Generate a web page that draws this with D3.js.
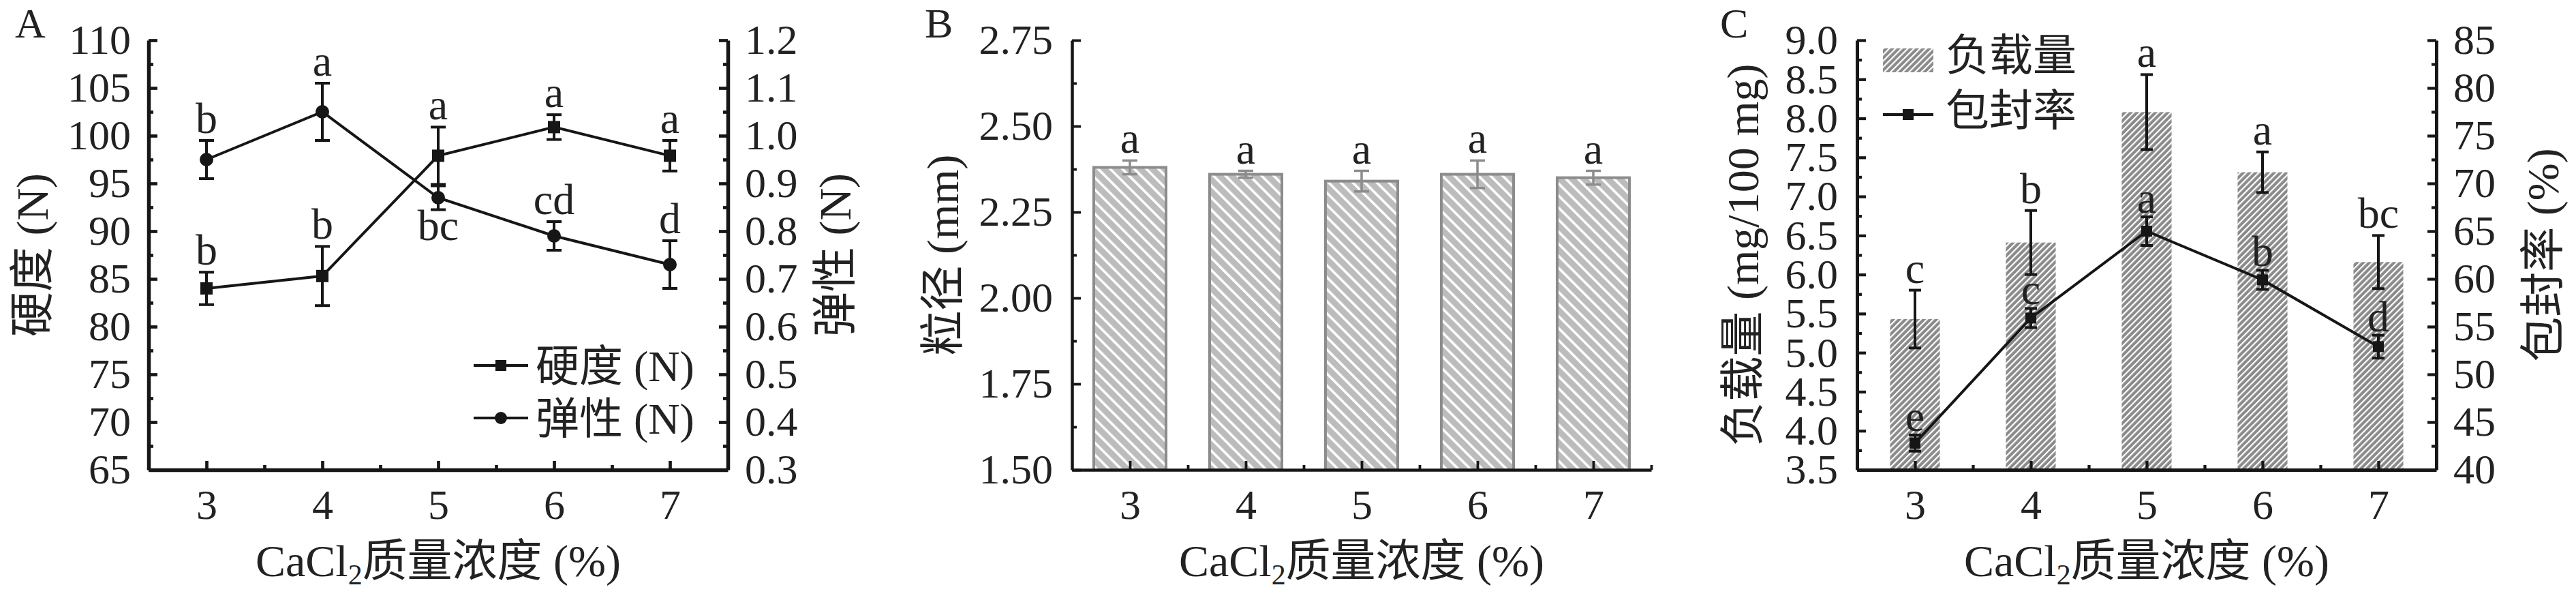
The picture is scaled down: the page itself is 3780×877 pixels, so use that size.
<!DOCTYPE html>
<html>
<head>
<meta charset="utf-8">
<script src="https://cdn.jsdelivr.net/npm/d3@7"></script>
<style>
  body { margin: 0; background: #fff; }
  svg { display: block; }
</style>
</head>
<body>
<script>
// CaCl2 concentration (%)
const conc = [3, 4, 5, 6, 7];

// A: hardness (N) and elasticity (N)
const hardness = [84.0, 85.3, 97.9, 100.9, 97.9];
const hardnessErr = [1.7, 3.1, 3.0, 1.3, 1.6];
const hardnessSig = ['b', 'b', 'a', 'a', 'a'];
const elasticity = [0.95, 1.05, 0.87, 0.79, 0.73];
const elasticityErr = [0.04, 0.06, 0.025, 0.03, 0.05];
const elasticitySig = ['b', 'a', 'bc', 'cd', 'd'];

// B: particle size (mm)
const particleSize = [2.38, 2.36, 2.34, 2.36, 2.35];
const particleSizeErr = [0.02, 0.01, 0.03, 0.04, 0.02];
const particleSizeSig = ['a', 'a', 'a', 'a', 'a'];

// C: loading (mg/100 mg) and encapsulation rate (%)
const loading = [5.43, 6.41, 8.08, 7.31, 6.16];
const loadingErr = [0.37, 0.41, 0.48, 0.26, 0.34];
const loadingSig = ['c', 'b', 'a', 'a', 'bc'];
const encap = [42.8, 55.9, 65.0, 59.9, 52.9];
const encapErr = [0.85, 1.0, 1.5, 1.0, 1.2];
const encapSig = ['e', 'c', 'a', 'b', 'd'];

const W = 3780, H = 877;
const serif = "'Liberation Serif', 'Times New Roman', 'Noto Sans CJK SC', serif";
const ink = '#161616';
const plotTop = 59, plotBottom = 689;

const svg = d3.select('body').append('svg')
    .attr('width', W)
    .attr('height', H);

svg.append('rect').attr('width', W).attr('height', H).attr('fill', '#fff');

// hatch patterns
const defs = svg.append('defs');
const pB = defs.append('pattern')
    .attr('id', 'hatchB')
    .attr('patternUnits', 'userSpaceOnUse')
    .attr('width', 12.5).attr('height', 40)
    .attr('patternTransform', 'rotate(-45)');
pB.append('rect').attr('width', 12.5).attr('height', 40).attr('fill', '#bcbcbc');
pB.append('rect').attr('width', 3.6).attr('height', 40).attr('fill', '#fff');

const pC = defs.append('pattern')
    .attr('id', 'hatchC')
    .attr('patternUnits', 'userSpaceOnUse')
    .attr('width', 6.4).attr('height', 40)
    .attr('patternTransform', 'rotate(45)');
pC.append('rect').attr('width', 6.4).attr('height', 40).attr('fill', '#8a8a8a');
pC.append('rect').attr('width', 2.2).attr('height', 40).attr('fill', '#fff');

function range(a, b, step) {
    const out = [];
    for (let v = a; v <= b + 1e-9; v += step) out.push(+v.toFixed(4));
    return out;
}

function styleAxis(g, sw) {
    g.attr('font-size', null).attr('font-family', null);
    g.select('.domain').attr('stroke', ink).attr('stroke-width', sw);
    g.selectAll('.tick line').attr('stroke', ink).attr('stroke-width', sw * 0.85);
    g.selectAll('.tick text')
        .attr('font-size', 62)
        .attr('font-family', serif)
        .attr('fill', '#222');
}

// axis with major labelled ticks and minor ticks, all pointing inward
function drawAxis(kind, scale, pos, majors, minors, fmt, sw, pad) {
    const mk = {left: d3.axisLeft, right: d3.axisRight, bottom: d3.axisBottom}[kind];
    const tr = kind === 'bottom' ? `translate(0,${pos})` : `translate(${pos},0)`;
    const gMinor = svg.append('g').attr('transform', tr)
        .call(mk(scale).tickValues(minors).tickSize(-7).tickFormat(''));
    gMinor.select('.domain').remove();
    gMinor.selectAll('text').remove();
    gMinor.selectAll('.tick line').attr('stroke', ink).attr('stroke-width', sw * 0.85);
    const g = svg.append('g').attr('transform', tr)
        .call(mk(scale).tickValues(majors).tickSizeInner(-13).tickSizeOuter(0)
            .tickPadding(pad).tickFormat(fmt));
    styleAxis(g, sw);
    return g;
}

function xTitle(cx) {
    const t = svg.append('text')
        .attr('x', cx).attr('y', 845)
        .attr('text-anchor', 'middle')
        .attr('font-family', serif)
        .attr('font-size', 66)
        .attr('fill', '#222');
    t.append('tspan').text('CaCl');
    t.append('tspan').attr('font-size', 42).attr('dy', 12).text('2');
    t.append('tspan').attr('dy', -12).text('质量浓度 (%)');
}

function yTitle(x, text) {
    svg.append('text')
        .attr('transform', `translate(${x},${(plotTop + plotBottom) / 2}) rotate(-90)`)
        .attr('text-anchor', 'middle')
        .attr('dy', '0.36em')
        .attr('font-family', serif)
        .attr('font-size', 66)
        .attr('fill', '#222')
        .text(text);
}

function panelLabel(x, y, text) {
    svg.append('text')
        .attr('x', x).attr('y', y)
        .attr('font-family', serif)
        .attr('font-size', 62)
        .attr('fill', '#222')
        .text(text);
}

function sigLabel(x, y, text) {
    svg.append('text')
        .attr('x', x).attr('y', y)
        .attr('text-anchor', 'middle')
        .attr('font-family', serif)
        .attr('font-size', 64)
        .attr('fill', '#222')
        .text(text);
}

function errorBars(x, y, vals, errs, color, sw, cap) {
    const g = svg.append('g').attr('stroke', color).attr('stroke-width', sw);
    conc.forEach((c, i) => {
        const cx = x(c), y1 = y(vals[i] + errs[i]), y2 = y(vals[i] - errs[i]);
        g.append('line').attr('x1', cx).attr('x2', cx).attr('y1', y1).attr('y2', y2);
        g.append('line').attr('x1', cx - cap / 2).attr('x2', cx + cap / 2).attr('y1', y1).attr('y2', y1);
        g.append('line').attr('x1', cx - cap / 2).attr('x2', cx + cap / 2).attr('y1', y2).attr('y2', y2);
    });
}

// ---------------- Panel A ----------------
{
    const x = d3.scaleLinear().domain([2.5, 7.5]).range([218, 1068]);
    const yL = d3.scaleLinear().domain([65, 110]).range([plotBottom, plotTop]);
    const yR = d3.scaleLinear().domain([0.3, 1.2]).range([plotBottom, plotTop]);

    drawAxis('left', yL, 218, range(65, 110, 5), range(67.5, 107.5, 5), d3.format('d'), 5.5, 26);
    drawAxis('right', yR, 1068, range(0.3, 1.2, 0.1), range(0.35, 1.15, 0.1), d3.format('.1f'), 5.5, 25);
    drawAxis('bottom', x, plotBottom, conc, range(3.5, 6.5, 1), d3.format('d'), 5.5, 28);

    const line = (y, vals) => d3.line().x((d, i) => x(conc[i])).y((d, i) => y(vals[i]))(vals);
    svg.append('path').attr('d', line(yL, hardness)).attr('fill', 'none').attr('stroke', ink).attr('stroke-width', 4);
    svg.append('path').attr('d', line(yR, elasticity)).attr('fill', 'none').attr('stroke', ink).attr('stroke-width', 4);

    errorBars(x, yL, hardness, hardnessErr, ink, 4, 22);
    errorBars(x, yR, elasticity, elasticityErr, ink, 4, 22);

    svg.selectAll('rect.hard').data(hardness).enter().append('rect')
        .attr('x', (d, i) => x(conc[i]) - 9).attr('y', d => yL(d) - 9)
        .attr('width', 18).attr('height', 18).attr('fill', ink);
    svg.selectAll('circle.elas').data(elasticity).enter().append('circle')
        .attr('cx', (d, i) => x(conc[i])).attr('cy', d => yR(d))
        .attr('r', 10).attr('fill', ink);

    conc.forEach((c, i) => {
        sigLabel(x(c), yL(hardness[i] + hardnessErr[i]) - 11, hardnessSig[i]);
        if (elasticitySig[i] === 'bc') {
            // drawn beneath its bar where the two lines cross
            sigLabel(x(c), yR(elasticity[i] - elasticityErr[i]) + 44, elasticitySig[i]);
        } else {
            sigLabel(x(c), yR(elasticity[i] + elasticityErr[i]) - 11, elasticitySig[i]);
        }
    });

    // legend
    const legend = [['硬度 (N)', 'square', 536], ['弹性 (N)', 'circle', 613]];
    legend.forEach(([label, shape, ly]) => {
        svg.append('line').attr('x1', 695).attr('x2', 775).attr('y1', ly).attr('y2', ly)
            .attr('stroke', ink).attr('stroke-width', 4);
        if (shape === 'square') {
            svg.append('rect').attr('x', 735 - 8).attr('y', ly - 8).attr('width', 16).attr('height', 16).attr('fill', ink);
        } else {
            svg.append('circle').attr('cx', 735).attr('cy', ly).attr('r', 9).attr('fill', ink);
        }
        svg.append('text').attr('x', 786).attr('y', ly).attr('dy', '0.36em')
            .attr('font-family', serif).attr('font-size', 64).attr('fill', '#222').text(label);
    });

    yTitle(46, '硬度 (N)');
    yTitle(1224, '弹性 (N)');
    xTitle((218 + 1068) / 2);
    panelLabel(22, 55, 'A');
}

// ---------------- Panel B ----------------
{
    const x = d3.scaleLinear().domain([2.5, 7.5]).range([1573, 2423]);
    const y = d3.scaleLinear().domain([1.5, 2.75]).range([plotBottom, plotTop]);
    const bw = x(2.5 + 0.624) - x(2.5);

    svg.selectAll('rect.size').data(particleSize).enter().append('rect')
        .attr('x', (d, i) => x(conc[i]) - bw / 2)
        .attr('y', d => y(d))
        .attr('width', bw)
        .attr('height', d => y(1.5) - y(d))
        .attr('fill', 'url(#hatchB)')
        .attr('stroke', '#8c8c8c')
        .attr('stroke-width', 4);

    errorBars(x, y, particleSize, particleSizeErr, '#8c8c8c', 3.5, 22);

    drawAxis('left', y, 1573, range(1.5, 2.75, 0.25), range(1.625, 2.625, 0.25), d3.format('.2f'), 4.5, 28);
    drawAxis('bottom', x, plotBottom, conc, range(3.5, 7.5, 1), d3.format('d'), 4.5, 28);

    conc.forEach((c, i) => sigLabel(x(c), y(particleSize[i] + particleSizeErr[i]) - 11, particleSizeSig[i]));

    yTitle(1382, '粒径 (mm)');
    xTitle((1573 + 2423) / 2);
    panelLabel(1357, 55, 'B');
}

// ---------------- Panel C ----------------
{
    const x = d3.scaleLinear().domain([2.5, 7.5]).range([2725, 3575]);
    const yL = d3.scaleLinear().domain([3.5, 9.0]).range([plotBottom, plotTop]);
    const yR = d3.scaleLinear().domain([40, 85]).range([plotBottom, plotTop]);
    const bw = x(2.5 + 0.43) - x(2.5);

    svg.selectAll('rect.load').data(loading).enter().append('rect')
        .attr('x', (d, i) => x(conc[i]) - bw / 2)
        .attr('y', d => yL(d))
        .attr('width', bw)
        .attr('height', d => yL(3.5) - yL(d))
        .attr('fill', 'url(#hatchC)');

    errorBars(x, yL, loading, loadingErr, ink, 4, 18);

    drawAxis('left', yL, 2725, range(3.5, 9.0, 0.5), range(3.75, 8.75, 0.5), d3.format('.1f'), 5, 28);
    drawAxis('right', yR, 3575, range(40, 85, 5), range(42.5, 82.5, 5), d3.format('d'), 5, 25);
    drawAxis('bottom', x, plotBottom, conc, range(3.5, 6.5, 1), d3.format('d'), 5, 28);

    const line = d3.line().x((d, i) => x(conc[i])).y(d => yR(d));
    svg.append('path').attr('d', line(encap)).attr('fill', 'none').attr('stroke', ink).attr('stroke-width', 4);
    errorBars(x, yR, encap, encapErr, ink, 4, 18);
    svg.selectAll('rect.enc').data(encap).enter().append('rect')
        .attr('x', (d, i) => x(conc[i]) - 8).attr('y', d => yR(d) - 8)
        .attr('width', 16).attr('height', 16).attr('fill', ink);

    conc.forEach((c, i) => {
        sigLabel(x(c), yL(loading[i] + loadingErr[i]) - 11, loadingSig[i]);
        sigLabel(x(c), yR(encap[i] + encapErr[i]) - 6, encapSig[i]);
    });

    // legend
    svg.append('rect').attr('x', 2763).attr('y', 71).attr('width', 74).attr('height', 35)
        .attr('fill', 'url(#hatchC)');
    svg.append('text').attr('x', 2855).attr('y', 80).attr('dy', '0.36em')
        .attr('font-family', serif).attr('font-size', 64).attr('fill', '#222').text('负载量');
    svg.append('line').attr('x1', 2763).attr('x2', 2837).attr('y1', 168).attr('y2', 168)
        .attr('stroke', ink).attr('stroke-width', 4);
    svg.append('rect').attr('x', 2800 - 8).attr('y', 168 - 8).attr('width', 16).attr('height', 16).attr('fill', ink);
    svg.append('text').attr('x', 2855).attr('y', 161).attr('dy', '0.36em')
        .attr('font-family', serif).attr('font-size', 64).attr('fill', '#222').text('包封率');

    yTitle(2556, '负载量 (mg/100 mg)');
    yTitle(3730, '包封率 (%)');
    xTitle((2725 + 3575) / 2);
    panelLabel(2524, 55, 'C');
}
</script>
</body>
</html>
